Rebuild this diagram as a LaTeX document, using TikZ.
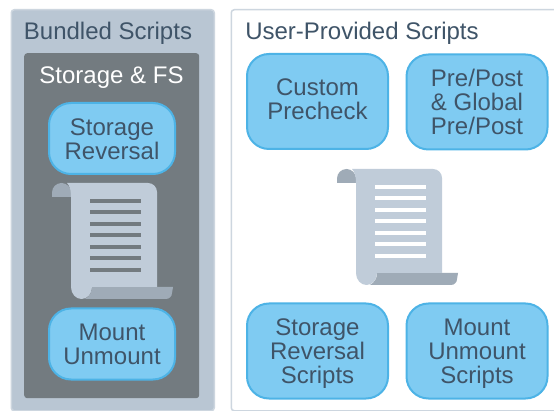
\documentclass[tikz,border=0pt]{standalone}
\usepackage{fontspec}
\setmainfont{Liberation Sans}
\usepackage{tikz}
\usetikzlibrary{positioning}
\definecolor{panelblue}{HTML}{B9C6D3}
\definecolor{panelline}{HTML}{CDD6DF}
\definecolor{innergray}{HTML}{737B80}
\definecolor{boxfill}{HTML}{7FCBF2}
\definecolor{boxline}{HTML}{4DB3E6}
\definecolor{inktext}{HTML}{3F5468}
\definecolor{pagefill}{HTML}{C0CCD9}
\definecolor{rollfill}{HTML}{9FABB7}
\tikzset{
  panel/.style={draw=panelline,line width=1.5pt,rounded corners=3pt,anchor=north west,inner sep=0pt},
  title/.style={text=inktext,font=\fontsize{24}{24}\selectfont,inner sep=0pt},
  scriptbox/.style={draw=boxline,line width=2pt,fill=boxfill,rounded corners=22pt,inner sep=0pt},
  boxtext/.style={title,align=center},
  scrollicon/.pic={
    \fill[rollfill] (0,14) -- (0,9.5) arc[start angle=180,end angle=360,radius=9.5] -- (19,14) -- cycle;
    \fill[rollfill] (40,104) -- (121,104) -- (120,110) arc[start angle=0,end angle=90,radius=6] -- (33,116)
      .. controls (38,113) and (40,109) .. (40,104) -- cycle;
    \fill[pagefill] (15,0) -- (96,0) arc[start angle=270,end angle=360,radius=9] -- (105,104) -- (40,104)
      .. controls (40,111) and (35,116) .. (29.5,116) .. controls (24,116) and (19,111) .. (19,104)
      -- (19,14) .. controls (19,8) and (18,3) .. (15,0) -- cycle;
    \foreach \rowy in {18,29.5,41,52.5,64,75.5,87}
      \fill[#1] (38,\rowy-2) rectangle (89,\rowy+2);
  }
}
\begin{document}
\begin{tikzpicture}[x=1pt,y=-1pt]
  \useasboundingbox (0,0) rectangle (554,411);
  \fill[white] (0,0) rectangle (554,411);
  \node[panel,fill=panelblue,minimum width=203pt,minimum height=401pt] (bundled) at (10.5,9) {};
  \node[panel,fill=white,minimum width=340pt,minimum height=401pt] (user) at (230.5,9) {};
  \node[anchor=north west,fill=innergray,rounded corners=3pt,inner sep=0pt,minimum width=175pt,minimum height=345pt] (storagefs) at (24,53) {};
  \node[title] (bundledtitle) at (108,33) {Bundled Scripts};
  \node[title] (usertitle) at (362,33) {User-Provided Scripts};
  \node[title,text=white] (storagetitle) at (111.5,78) {Storage \& FS};
  \node[scriptbox,minimum width=126pt,minimum height=71pt] (reversal) at (112,138.5) {};
  \node[scriptbox,minimum width=126pt,minimum height=71pt] (mount) at (112,344) {};
  \node[scriptbox,minimum width=141pt,minimum height=95pt] (precheck) at (317.5,101.5) {};
  \node[scriptbox,minimum width=141pt,minimum height=95pt] (prepost) at (477,102) {};
  \node[scriptbox,minimum width=141pt,minimum height=95pt] (reversalscripts) at (317.5,351) {};
  \node[scriptbox,minimum width=141pt,minimum height=95pt] (mountscripts) at (477,351) {};
  \node[boxtext] (reversaltext) at (112,139.5) {Storage\\Reversal};
  \node[boxtext] (mounttext) at (112,344) {Mount\\Unmount};
  \node[boxtext] (prechecktext) at (317.5,99.5) {Custom\\Precheck};
  \node[boxtext] (preposttext) at (477,102) {Pre/Post\\\& Global\\Pre/Post};
  \node[boxtext] (reversalscriptstext) at (317.5,354) {Storage\\Reversal\\Scripts};
  \node[boxtext] (mountscriptstext) at (477,354) {Mount\\Unmount\\Scripts};
  \pic (bundledscroll) at (52,183) {scrollicon=innergray};
  \pic (userscroll) at (337,169) {scrollicon=white};
\end{tikzpicture}
\end{document}
